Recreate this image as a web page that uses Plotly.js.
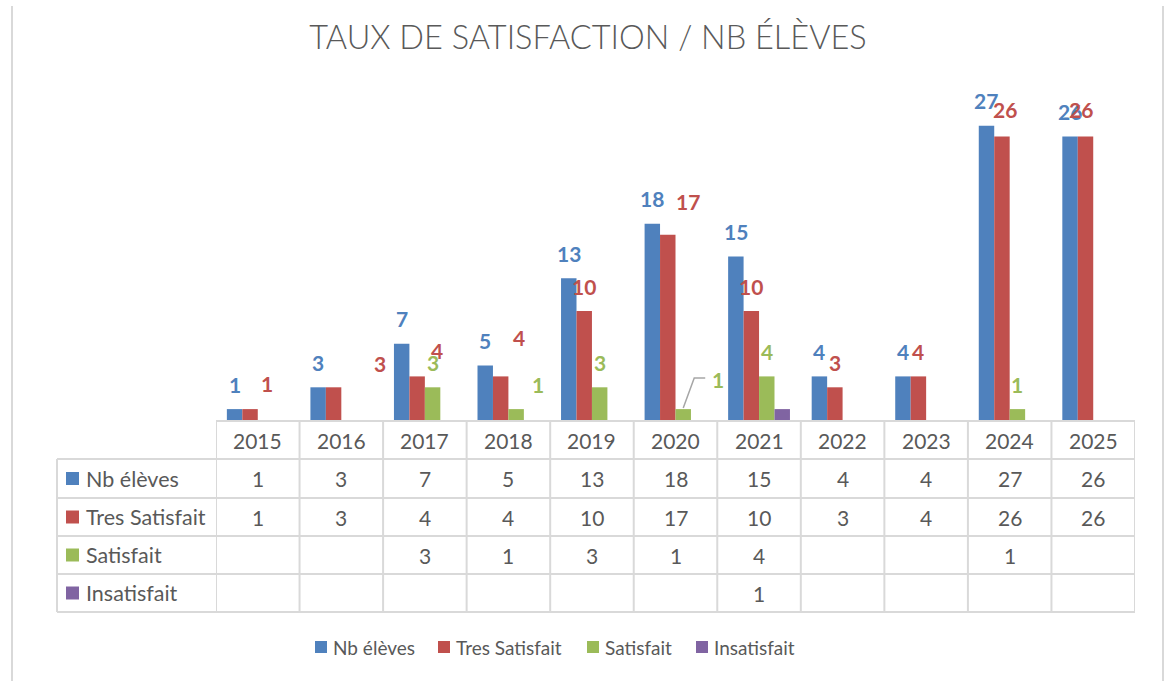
<!DOCTYPE html>
<html>
<head>
<meta charset="utf-8">
<script src="https://cdn.plot.ly/plotly-3.0.1.min.js"></script>
<style>html,body{margin:0;padding:0;background:#fff;}#chart{width:1170px;height:681px;}</style>
</head>
<body>
<div id="chart"></div>
<script>
// ---- data ----
const years = ['2015','2016','2017','2018','2019','2020','2021','2022','2023','2024','2025'];
const nbEleves = [1, 3, 7, 5, 13, 18, 15, 4, 4, 27, 26];
const tresSatisfait = [1, 3, 4, 4, 10, 17, 10, 3, 4, 26, 26];
const satisfait = [null, null, 3, 1, 3, 1, 4, null, null, 1, null];
const insatisfait = [null, null, null, null, null, null, 1, null, null, null, null];
const seriesNames = ['Nb élèves', 'Tres Satisfait', 'Satisfait', 'Insatisfait'];
const seriesValues = [nbEleves, tresSatisfait, satisfait, insatisfait];

// ---- styles ----
const colors = ['#4f81bd', '#c0504d', '#9bbb59', '#8064a2'];
const FONT = 'Lato, "Open Sans", sans-serif';
const GRAY = '#595959';
const GRID = '#d9d9d9';
const W = 1170, H = 681;
const L = 216, R = 35, T = 93, B = 261;
const plotW = W - L - R, plotH = H - T - B;
const BARGAP = 0.26;
const px = X => (X - L) / plotW;
const py = Y => (H - B - Y) / plotH;

// label placement tweaks (pixels) keyed by series index and year
const labelShift = {
  '1-2015': [17, 26], '1-2016': [46, 24], '1-2017': [20, 26], '1-2018': [18, 39],
  '1-2020': [20, 33], '1-2024': [3, 27], '1-2025': [-5, 27],
  '2-2018': [22, 25], '2-2020': [35, 30]
};
const showLabels = [true, true, true, false];

const traces = seriesNames.map((name, s) => ({
  type: 'bar', name: name, x: years, y: seriesValues[s],
  marker: {color: colors[s]}, showlegend: false, hoverinfo: 'x+y+name'
}));

const catW = plotW / years.length;
const groupW = catW * (1 - BARGAP);
const barW = groupW / seriesNames.length;
const barOffset = s => -groupW / 2 + barW * (s + 0.5);

const annotations = [];
const shapes = [];

// data labels
seriesValues.forEach((vals, s) => {
  if (!showLabels[s]) return;
  vals.forEach((v, i) => {
    if (v === null) return;
    const sh = labelShift[s + '-' + years[i]] || [0, 25];
    annotations.push({
      x: i, y: v, xref: 'x', yref: 'y', text: String(v), showarrow: false,
      xshift: barOffset(s) + sh[0], yshift: sh[1], yanchor: 'middle', xanchor: 'center',
      font: {family: FONT, size: 21, color: colors[s], weight: 700}
    });
  });
});

// leader line for Satisfait 2020
const i2020 = years.indexOf('2020');
shapes.push({
  type: 'path', xref: 'x', yref: 'y', xsizemode: 'pixel', ysizemode: 'pixel',
  xanchor: i2020, yanchor: satisfait[i2020],
  path: `M ${barOffset(2)},1 L ${barOffset(2) + 11},31 L ${barOffset(2) + 22},31`,
  line: {color: '#a6a6a6', width: 1.5}
});

// ---- data table ----
const rowLines = [421, 459, 498, 536, 574, 612];
const rowCenters = [440, 478.5, 517, 555, 593];
for (let i = 0; i <= years.length; i++) {
  shapes.push({type: 'line', xref: 'x', yref: 'paper', x0: i - 0.5, x1: i - 0.5,
    y0: py(rowLines[0]), y1: py(rowLines[5]), line: {color: GRID, width: 2}});
}
shapes.push({type: 'line', xref: 'paper', yref: 'paper', x0: px(57), x1: px(57),
  y0: py(rowLines[1]), y1: py(rowLines[5]), line: {color: GRID, width: 2}});
shapes.push({type: 'line', xref: 'x', yref: 'paper', x0: -0.5, x1: years.length - 0.5,
  y0: py(rowLines[0]), y1: py(rowLines[0]), line: {color: GRID, width: 2}});
for (let r = 1; r < rowLines.length; r++) {
  shapes.push({type: 'line', xref: 'paper', yref: 'paper', x0: px(57), x1: 1,
    y0: py(rowLines[r]), y1: py(rowLines[r]), line: {color: GRID, width: 2}});
}
years.forEach((yr, i) => annotations.push({
  x: i, y: py(rowCenters[0]), xref: 'x', yref: 'paper', text: yr, showarrow: false,
  xanchor: 'center', yanchor: 'middle', font: {family: FONT, size: 21, color: GRAY}
}));
seriesNames.forEach((name, s) => {
  const yc = py(rowCenters[s + 1]);
  shapes.push({type: 'rect', xref: 'paper', yref: 'paper', x0: px(66), x1: px(79),
    y0: yc - 6.5 / plotH, y1: yc + 6.5 / plotH, fillcolor: colors[s], line: {width: 0}});
  annotations.push({x: px(84), y: yc, xref: 'paper', yref: 'paper', text: name,
    showarrow: false, xanchor: 'left', yanchor: 'middle',
    font: {family: FONT, size: 21.5, color: GRAY}});
  seriesValues[s].forEach((v, i) => {
    if (v === null) return;
    annotations.push({x: i, y: yc, xref: 'x', yref: 'paper', text: String(v),
      showarrow: false, xanchor: 'center', yanchor: 'middle',
      font: {family: FONT, size: 21, color: GRAY}});
  });
});

// ---- legend ----
const legendX = [315, 438, 587, 696];
const legendY = 647;
seriesNames.forEach((name, s) => {
  const yc = py(legendY);
  shapes.push({type: 'rect', xref: 'paper', yref: 'paper', x0: px(legendX[s]), x1: px(legendX[s] + 12),
    y0: yc - 6 / plotH, y1: yc + 6 / plotH, fillcolor: colors[s], line: {width: 0}});
  annotations.push({x: px(legendX[s] + 16), y: yc, xref: 'paper', yref: 'paper', text: name,
    showarrow: false, xanchor: 'left', yanchor: 'middle',
    font: {family: FONT, size: 19, color: GRAY}});
});

// chart frame
[12, 1163].forEach(X => shapes.push({type: 'line', xref: 'paper', yref: 'paper',
  x0: px(X), x1: px(X), y0: py(6), y1: py(H + 5), line: {color: GRID, width: 2}}));

const layout = {
  width: W, height: H,
  margin: {l: L, r: R, t: T, b: B, pad: 0},
  paper_bgcolor: '#ffffff', plot_bgcolor: '#ffffff',
  title: {text: 'TAUX DE SATISFACTION / NB ÉLÈVES', x: 588 / W, xref: 'container', xanchor: 'center',
    y: 1 - 38 / H, yanchor: 'middle', yref: 'container',
    font: {family: FONT, size: 32.5, color: GRAY, weight: 300}},
  barmode: 'group', bargap: BARGAP, bargroupgap: 0,
  xaxis: {type: 'category', range: [-0.5, years.length - 0.5], autorange: false,
    showticklabels: false, showgrid: false, zeroline: false,
    showline: false, ticks: '', fixedrange: true},
  yaxis: {range: [0, 30], autorange: false, visible: false, showgrid: false, zeroline: false, fixedrange: true},
  showlegend: false,
  annotations: annotations, shapes: shapes
};

Plotly.newPlot('chart', traces, layout, {displayModeBar: false, staticPlot: true});
</script>
</body>
</html>
